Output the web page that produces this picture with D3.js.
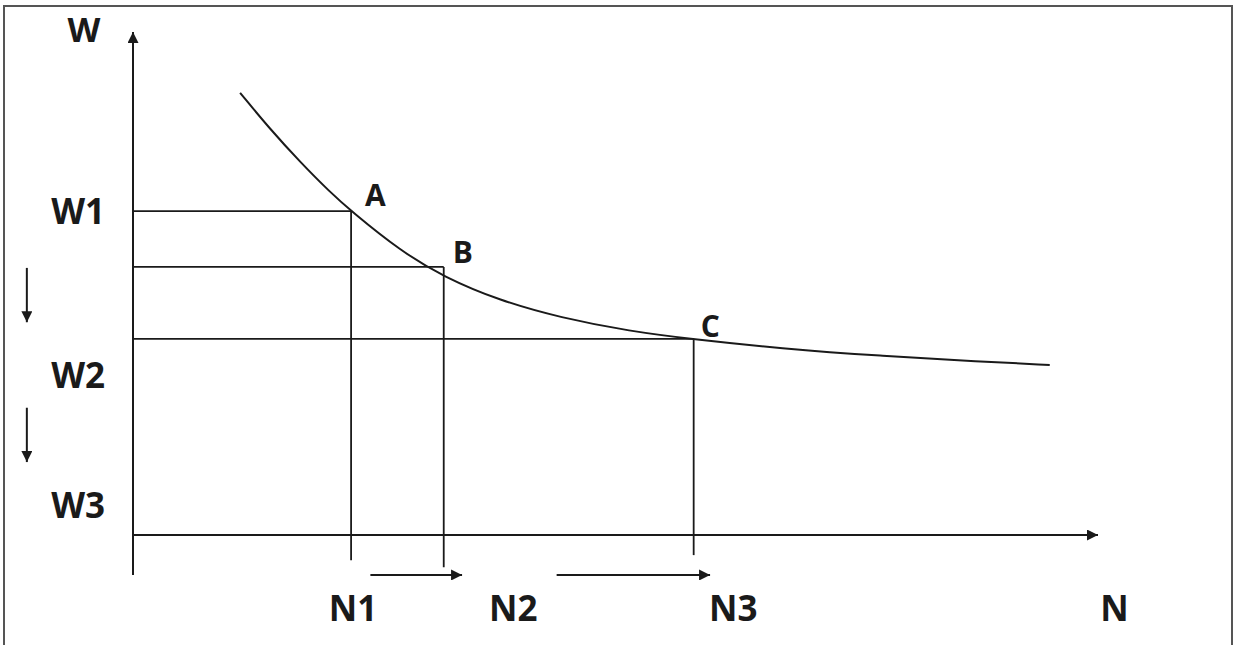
<!DOCTYPE html>
<html>
<head>
<meta charset="utf-8">
<script src="https://cdn.jsdelivr.net/npm/d3@7/dist/d3.min.js"></script>
<style>
  html, body { margin: 0; padding: 0; background: #fff; }
  svg { display: block; }
  text { font-family: "Open Sans", sans-serif; font-weight: 700; fill: #1a1a1a; }
</style>
</head>
<body>
<svg id="chart" width="1234" height="645"></svg>
<script>
// ---- Data ----
// Demand-type curve: N (quantity) vs W (price), arbitrary 0..100 units
const curveN = [11.1, 14.2, 17.3, 20.4, 22.6, 27.7, 32.2, 38.0, 44.3, 51.5, 58.1, 67.1, 77.4, 87.8, 95.0];
const curveW = [87.9, 80.7, 74.2, 68.2, 64.4, 56.5, 51.3, 46.6, 43.2, 40.5, 38.9, 37.1, 35.6, 34.5, 33.8];

// Marked points A, B, C (N value, W level)
const pointNames = ["A", "B", "C"];
const pointN = [22.6, 32.2, 58.1];
const pointW = [64.4, 53.3, 39.0];
const dropEndW = [-5.0, -6.4, -4.0];   // where each vertical guide stops below the N axis

// Axis labels
const wLabels = ["W1", "W2", "W3"];
const wLabelValues = [64.4, 31.8, 5.8];
const nLabels = ["N1", "N2", "N3"];
const nLabelValues = [22.8, 39.4, 62.2];
const axisNameW = "W";
const axisNameN = "N";

// Shift arrows along the N axis (from, to) and along the W side (from, to)
const nShiftFrom = [24.6, 43.9];
const nShiftTo = [34.1, 59.8];
const nShiftW = -7.95;
const wShiftFrom = [53.1, 25.3];
const wShiftTo = [42.3, 14.5];
const wShiftN = -11.0;

// ---- Layout ----
const labelDx = [14, 9, 7];
const labelDy = [-5, -4, -2];

// ---- Scales ----
const x = d3.scaleLinear().domain([0, 100]).range([133, 1098]);
const y = d3.scaleLinear().domain([0, 100]).range([535, 32]);

const svg = d3.select("#chart");
const ink = "#1a1a1a";

// outer frame
svg.append("rect")
  .attr("x", 4).attr("y", 6).attr("width", 1228).attr("height", 660)
  .attr("fill", "none").attr("stroke", "#555").attr("stroke-width", 2);

// arrowhead marker
const defs = svg.append("defs");
defs.append("marker")
  .attr("id", "arrow")
  .attr("viewBox", "0 0 10 10")
  .attr("refX", 10).attr("refY", 5)
  .attr("markerWidth", 13).attr("markerHeight", 11)
  .attr("markerUnits", "userSpaceOnUse")
  .attr("orient", "auto")
  .append("path").attr("d", "M0,0 L10,5 L0,10 Z").attr("fill", ink);

// axes
svg.append("line")
  .attr("x1", x(0)).attr("y1", y(-7.95))
  .attr("x2", x(0)).attr("y2", y(100))
  .attr("stroke", ink).attr("stroke-width", 2)
  .attr("marker-end", "url(#arrow)");
svg.append("line")
  .attr("x1", x(0)).attr("y1", y(0))
  .attr("x2", x(100)).attr("y2", y(0))
  .attr("stroke", ink).attr("stroke-width", 2)
  .attr("marker-end", "url(#arrow)");

// guides for A, B, C
const pts = pointNames.map((n, i) => ({ name: n, N: pointN[i], W: pointW[i], end: dropEndW[i], i }));
svg.selectAll("line.h").data(pts).enter().append("line")
  .attr("class", "h")
  .attr("x1", x(0)).attr("x2", d => x(d.N))
  .attr("y1", d => y(d.W)).attr("y2", d => y(d.W))
  .attr("stroke", ink).attr("stroke-width", 1.8);
svg.selectAll("line.v").data(pts).enter().append("line")
  .attr("class", "v")
  .attr("x1", d => x(d.N)).attr("x2", d => x(d.N))
  .attr("y1", d => y(d.W)).attr("y2", d => y(d.end))
  .attr("stroke", ink).attr("stroke-width", 1.8);

// curve
const curveData = curveN.map((n, i) => [n, curveW[i]]);
svg.append("path")
  .datum(curveData)
  .attr("fill", "none").attr("stroke", ink).attr("stroke-width", 2)
  .attr("d", d3.line().x(d => x(d[0])).y(d => y(d[1])).curve(d3.curveBasis));

// point labels
svg.selectAll("text.pt").data(pts).enter().append("text")
  .attr("class", "pt")
  .attr("x", d => x(d.N) + labelDx[d.i])
  .attr("y", d => y(d.W) + labelDy[d.i])
  .attr("font-size", 30)
  .text(d => d.name);

// W labels
svg.selectAll("text.wl").data(wLabels).enter().append("text")
  .attr("class", "wl")
  .attr("x", 105)
  .attr("y", (d, i) => y(wLabelValues[i]))
  .attr("dy", "0.36em")
  .attr("text-anchor", "end")
  .attr("font-size", 35)
  .text(d => d);
svg.append("text")
  .attr("x", 84).attr("y", 42)
  .attr("text-anchor", "middle")
  .attr("font-size", 34)
  .text(axisNameW);

// N labels
svg.selectAll("text.nl").data(nLabels).enter().append("text")
  .attr("class", "nl")
  .attr("x", (d, i) => x(nLabelValues[i]))
  .attr("y", 621)
  .attr("text-anchor", "middle")
  .attr("font-size", 35)
  .text(d => d);
svg.append("text")
  .attr("x", x(101.7)).attr("y", 621)
  .attr("text-anchor", "middle")
  .attr("font-size", 35)
  .text(axisNameN);

// shift arrows under N axis
svg.selectAll("line.ns").data(nShiftFrom).enter().append("line")
  .attr("class", "ns")
  .attr("x1", d => x(d)).attr("x2", (d, i) => x(nShiftTo[i]))
  .attr("y1", y(nShiftW)).attr("y2", y(nShiftW))
  .attr("stroke", ink).attr("stroke-width", 2)
  .attr("marker-end", "url(#arrow)");

// shift arrows on W side
svg.selectAll("line.ws").data(wShiftFrom).enter().append("line")
  .attr("class", "ws")
  .attr("x1", x(wShiftN)).attr("x2", x(wShiftN))
  .attr("y1", d => y(d)).attr("y2", (d, i) => y(wShiftTo[i]))
  .attr("stroke", ink).attr("stroke-width", 2)
  .attr("marker-end", "url(#arrow)");
</script>
</body>
</html>
